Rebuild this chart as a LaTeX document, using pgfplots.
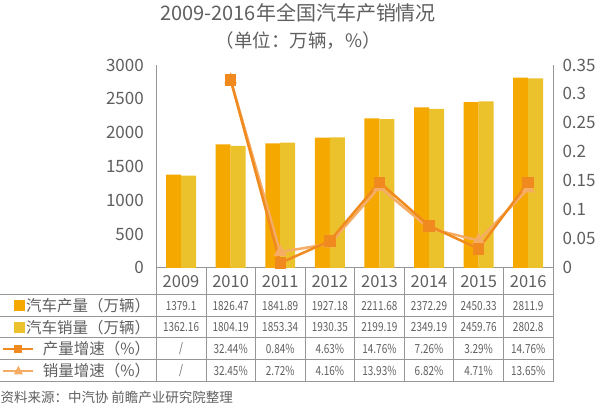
\documentclass[border=0pt]{standalone}
\usepackage{pgfplots}
\pgfplotsset{compat=1.18}
\usepackage{fontspec}
\setmainfont{Noto Sans CJK SC}
\newfontfamily\narrow[FakeStretch=0.8]{Noto Sans CJK SC}
\definecolor{prodbar}{RGB}{245,168,0}
\definecolor{salebar}{RGB}{236,194,44}
\definecolor{pline}{RGB}{240,138,30}
\definecolor{sline}{RGB}{245,172,100}
\definecolor{txt}{RGB}{95,95,95}
\definecolor{grid}{RGB}{150,150,150}
\begin{document}
\begin{tikzpicture}[x=1pt,y=1pt]
\path (0,0) rectangle (600,409);
\begin{axis}[
  at={(156pt,141pt)}, anchor=south west,
  scale only axis, width=397pt, height=203pt,
  xmin=-0.5, xmax=7.5, ymin=0, ymax=3000,
  axis y line=left, axis x line=bottom,
  axis line style={draw=grid, line width=0.8pt, -},
  xtick=\empty,
  ytick={0,500,1000,1500,2000,2500,3000},
  major tick length=0pt,
  /pgf/number format/assume math mode=true,
  /pgf/number format/1000 sep={},
  yticklabel style={font=\fontsize{17}{17}\selectfont, text=txt, xshift=-9pt},
  ybar=0pt, bar width=15pt,
  clip=false,
]
\addplot[fill=prodbar, draw=none] coordinates {(0,1379.1)(1,1826.47)(2,1841.89)(3,1927.18)(4,2211.68)(5,2372.29)(6,2450.33)(7,2811.9)};
\addplot[fill=salebar, draw=none] coordinates {(0,1362.16)(1,1804.19)(2,1853.34)(3,1930.35)(4,2199.19)(5,2349.19)(6,2459.76)(7,2802.8)};
\end{axis}
\begin{axis}[
  at={(156pt,141pt)}, anchor=south west,
  scale only axis, width=397pt, height=203pt,
  xmin=-0.5, xmax=7.5, ymin=0, ymax=0.35,
  axis y line*=right, axis x line=none,
  axis line style={draw=grid, line width=0.8pt, -},
  xtick=\empty,
  ytick={0,0.05,0.1,0.15,0.2,0.25,0.3,0.35},
  major tick length=0pt,
  /pgf/number format/assume math mode=true,
  /pgf/number format/fixed, /pgf/number format/precision=2,
  yticklabel style={font=\fontsize{17}{17}\selectfont, text=txt, xshift=6pt},
  clip=false,
]
\addplot[color=sline, line width=2.5pt, mark=triangle*, mark size=5pt, mark options={fill=sline, draw=sline}] coordinates {(1,0.3245)(2,0.0272)(3,0.0416)(4,0.1393)(5,0.0682)(6,0.0471)(7,0.1365)};
\addplot[color=pline, line width=2.5pt, mark=square*, mark size=4.5pt, mark options={fill=pline, draw=pline}] coordinates {(1,0.3244)(2,0.0084)(3,0.0463)(4,0.1476)(5,0.0726)(6,0.0329)(7,0.1476)};
\end{axis}
% title
\node[text=txt, font=\fontsize{20}{20}\selectfont] at (298,396) {2009-2016年全国汽车产销情况};
\node[text=txt, font=\fontsize{18.5}{18.5}\selectfont] at (298,368) {（单位：万辆，\%）};
% table grid
\foreach \i in {0,...,8} { \draw[grid, line width=0.7pt] ({156+49.625*\i},141) -- ({156+49.625*\i},27); }
\foreach \yy in {114,92,71,49,27} { \draw[grid, line width=0.7pt] (0,\yy) -- (553,\yy); }
% years
\foreach \yr [count=\i from 0] in {2009,2010,2011,2012,2013,2014,2015,2016} {
  \node[text=txt, font=\fontsize{16.5}{16.5}\selectfont] at ({180.8+49.625*\i},127.5) {\yr};
}
% row labels
\fill[prodbar] (14,97.5) rectangle (25,108.5);
\fill[salebar] (14,76) rectangle (25,87);
\node[anchor=east, text=txt, font=\fontsize{15.5}{15.5}\selectfont, inner sep=0pt] at (150,103) {汽车产量（万辆）};
\node[anchor=east, text=txt, font=\fontsize{15.5}{15.5}\selectfont, inner sep=0pt] at (150,81.5) {汽车销量（万辆）};
\draw[pline, line width=2.5pt] (3,60) -- (33,60);
\fill[pline] (14,56) rectangle (22,64);
\draw[sline, line width=2.5pt] (3,38) -- (33,38);
\fill[sline] (18,43) -- (13.5,34.5) -- (22.5,34.5) -- cycle;
\node[anchor=east, text=txt, font=\fontsize{15.5}{15.5}\selectfont, inner sep=0pt] at (150,60) {产量增速（\%）};
\node[anchor=east, text=txt, font=\fontsize{15.5}{15.5}\selectfont, inner sep=0pt] at (150,38) {销量增速（\%）};
% values
\foreach \v [count=\i from 0] in {1379.1,1826.47,1841.89,1927.18,2211.68,2372.29,2450.33,2811.9} {
  \node[text=txt, font=\narrow\fontsize{12.5}{12.5}\selectfont, inner sep=0pt] at ({180.8+49.625*\i},103) {\v};
}
\foreach \v [count=\i from 0] in {1362.16,1804.19,1853.34,1930.35,2199.19,2349.19,2459.76,2802.8} {
  \node[text=txt, font=\narrow\fontsize{12.5}{12.5}\selectfont, inner sep=0pt] at ({180.8+49.625*\i},81.5) {\v};
}
\foreach \v [count=\i from 0] in {/,32.44\%,0.84\%,4.63\%,14.76\%,7.26\%,3.29\%,14.76\%} {
  \node[text=txt, font=\narrow\fontsize{12.5}{12.5}\selectfont, inner sep=0pt] at ({180.8+49.625*\i},60) {\v};
}
\foreach \v [count=\i from 0] in {/,32.45\%,2.72\%,4.16\%,13.93\%,6.82\%,4.71\%,13.65\%} {
  \node[text=txt, font=\narrow\fontsize{12.5}{12.5}\selectfont, inner sep=0pt] at ({180.8+49.625*\i},38) {\v};
}
\node[anchor=west, text=txt, font=\fontsize{13.5}{13.5}\selectfont, inner sep=0pt] at (0,11) {资料来源：中汽协 前瞻产业研究院整理};
\end{tikzpicture}
\end{document}
